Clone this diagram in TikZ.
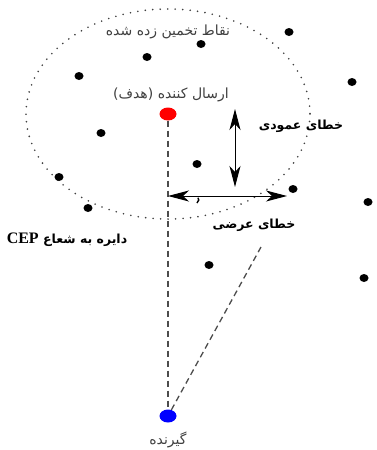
\documentclass[tikz,border=0pt]{standalone}
\usepackage{fontspec}
\newfontfamily\farsi[Script=Arabic]{DejaVu Sans}
\newfontfamily\latinserif{Liberation Serif}
\TeXXeTstate=1
\usetikzlibrary{arrows.meta,shapes.geometric}

\begin{document}
\begin{tikzpicture}[x=1pt, y=-1pt,
    estpoint/.style={ellipse, fill=black, inner sep=0pt, minimum width=9pt, minimum height=8pt},
    endpoint/.style={ellipse, inner sep=0pt, minimum width=17pt, minimum height=13pt},
    ftext/.style={font=\farsi\fontsize{14}{16}\selectfont, text=black!75},
    btext/.style={font=\farsi\bfseries\fontsize{12.5}{14}\selectfont},
    cepline/.style={draw=black!75, line width=1.8pt, line cap=round, dash pattern=on 0pt off 7.5pt},
    track/.style={draw=black!70, line width=1.3pt, dash pattern=on 6pt off 4pt},
    errarrow/.style={{Stealth[length=21pt,width=11pt,inset=6pt]}-{Stealth[length=21pt,width=11pt,inset=6pt]}, line width=1pt}
  ]
    \useasboundingbox (0,0) rectangle (377,450);
    % فرستنده و گیرنده
    \node[endpoint, fill=red]  (tx) at (168,114) {};
    \node[endpoint, fill=blue] (rx) at (168,416) {};
    % دایره CEP
    \draw[cepline] (tx.center) ellipse [x radius=142, y radius=105];
    \draw[line width=1.4pt] (197,203) arc[start angle=60, end angle=-40, radius=3.5];
    % نقاط تخمین زده شده
    \node[estpoint] (p1)  at (289, 32)  {};
    \node[estpoint] (p2)  at (201, 44)  {};
    \node[estpoint] (p3)  at (147, 57)  {};
    \node[estpoint] (p4)  at ( 79, 76)  {};
    \node[estpoint] (p5)  at (352, 82)  {};
    \node[estpoint] (p6)  at (101,133)  {};
    \node[estpoint] (p7)  at (197,164)  {};
    \node[estpoint] (p8)  at ( 59,177)  {};
    \node[estpoint] (p9)  at ( 88,208)  {};
    \node[estpoint] (p10) at (293,189)  {};
    \node[estpoint] (p11) at (368,202)  {};
    \node[estpoint] (p12) at (209,265)  {};
    \node[estpoint] (p13) at (364,278)  {};
    % مسیرها
    \coordinate (diagend) at (261,247);
    \draw[track] (tx) -- (rx);
    \draw[track] (rx) -- (diagend);
    % خطاها
    \coordinate (vtop) at (235,109);
    \coordinate (vbot) at (235,187);
    \coordinate (hleft) at (168,196);
    \coordinate (hright) at (287,196);
    \draw[errarrow] (vtop) -- (vbot);
    \draw[errarrow] (hleft) -- (hright);
    % متن‌ها
    \node[ftext] (esttext) at (168,32) {\beginR نقاط تخمین زده شده\endR};
    \node[ftext] (txtext)  at (171,95) {\beginR ارسال کننده (هدف)\endR};
    \node[ftext] (rxtext)  at (168,440) {\beginR گیرنده\endR};
    \node[btext] (vtext)   at (301,126) {\beginR خطای عمودی\endR};
    \node[btext] (htext)   at (254,225) {\beginR خطای عرضی\endR};
    \node[btext] (ceptext) at (67,240) {\beginR دایره به شعاع \beginL{\latinserif\bfseries\fontsize{16}{18}\selectfont CEP}\endL\endR};
\end{tikzpicture}
\end{document}
